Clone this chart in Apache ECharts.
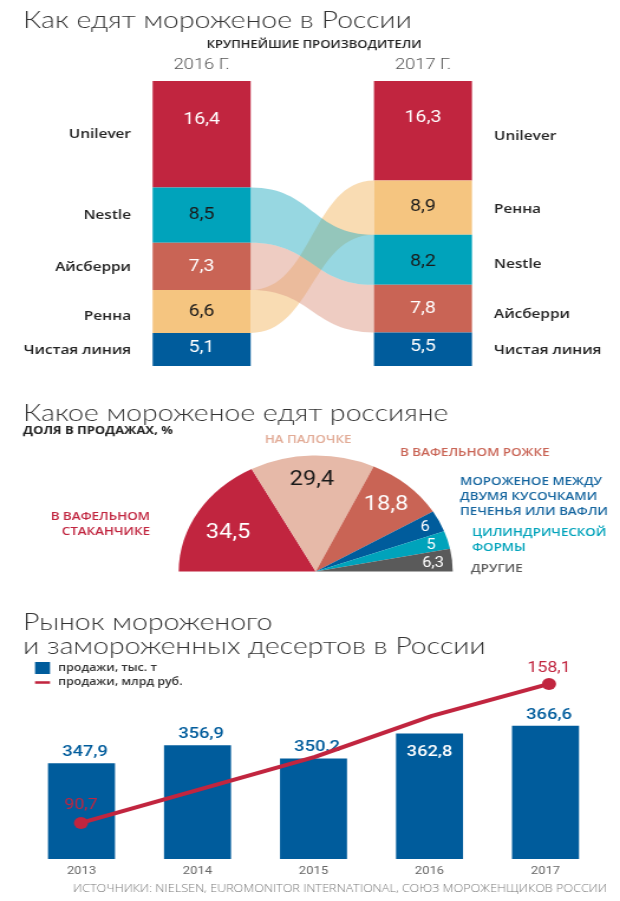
<!DOCTYPE html>
<html><head><meta charset="utf-8">
<style>html,body{margin:0;padding:0;background:#fff;overflow:hidden}
#c{width:525px;height:901px;transform:scaleX(1.181);transform-origin:0 0}</style>
<script src="https://cdn.jsdelivr.net/npm/echarts@6/dist/echarts.min.js"></script>
</head><body><div id="c"></div>
<script>
const producers2016=['Unilever','Nestle','Айсберри','Ренна','Чистая линия'];
const values2016=[16.4,8.5,7.3,6.6,5.1];
const producers2017=['Unilever','Ренна','Nestle','Айсберри','Чистая линия'];
const values2017=[16.3,8.9,8.2,7.8,5.5];
const producerYears=['2016 Г.','2017 Г.'];
const typeNames=['В ВАФЕЛЬНОМ\nСТАКАНЧИКЕ','НА ПАЛОЧКЕ','В ВАФЕЛЬНОМ РОЖКЕ','МОРОЖЕНОЕ МЕЖДУ\nДВУМЯ КУСОЧКАМИ\nПЕЧЕНЬЯ ИЛИ ВАФЛИ','ЦИЛИНДРИЧЕСКОЙ\nФОРМЫ','ДРУГИЕ'];
const typeValues=[34.5,29.4,18.8,6,5,6.3];
const marketYears=['2013','2014','2015','2016','2017'];
const salesTons=[347.9,356.9,350.2,362.8,366.6];
const salesRub=[90.7,106.7,122.7,142.6,158.1];

const S=1.181, X=v=>v/S, FONT='"Open Sans"', NUM='Roboto', HEAD='Lato';
const RED='#c1253f',TEAL='#00a3bb',SALMON='#c96455',PEACH='#f5c580',BLUE='#005c9c',PINK='#e6b9a8',GREY='#5a5a5a';
const brandColor={'Unilever':RED,'Nestle':TEAL,'Айсберри':SALMON,'Ренна':PEACH,'Чистая линия':BLUE};
const brandLabel={'Unilever':'#fff','Nestle':'#1a1a1a','Айсберри':'#fff','Ренна':'#1a1a1a','Чистая линия':'#fff'};
const comma=v=>String(v).replace('.',',');
const total=a=>a.reduce((s,v)=>s+v,0);
const share=a=>a.map(v=>v/total(a)*100);
const s16=share(values2016), s17=share(values2017);
const span=(names,sh,n)=>{let t=0;for(let i=0;i<names.length;i++){if(names[i]===n)return [t,t+sh[i]];t+=sh[i];}};
const mid=(sh,i)=>sh.slice(0,i).reduce((a,b)=>a+b,0)+sh[i]/2;

const labelDy=[[-14,0,1,0,-2],[-13,-1,2,0,-2]];
const brandDy=[[0,0,1,5,1],[6,2,4,6,1]];
const barPx=98;

const rankSeries=[0,1,2,3,4].map(i=>({
  type:'bar',name:'rank'+i,stack:'share',xAxisIndex:0,yAxisIndex:0,barWidth:X(barPx),z:3,
  data:[
    {value:s16[i],raw:values2016[i],itemStyle:{color:brandColor[producers2016[i]]},
     label:{color:brandLabel[producers2016[i]],offset:[0,labelDy[0][i]]}},
    {value:s17[i],raw:values2017[i],itemStyle:{color:brandColor[producers2017[i]]},
     label:{color:brandLabel[producers2017[i]],offset:[0,labelDy[1][i]]}}
  ],
  label:{show:true,position:'inside',fontFamily:NUM,fontSize:16.5,formatter:p=>comma(p.data.raw)}
}));

const ribbonNames=['Ренна','Айсберри','Nestle'];
const ribbonFill=['#f5c580','#dd9a85','#2fb0c4'];
const ribbonOpacity=[0.6,0.5,0.5];
const ribbonData=ribbonNames.map(n=>[0,...span(producers2016,s16,n),...span(producers2017,s17,n)]);
const ribbonSeries={
  type:'custom',name:'ribbons',xAxisIndex:0,yAxisIndex:0,z:1,silent:true,clip:false,
  encode:{x:0,y:1},data:ribbonData,
  renderItem(params,api){
    const half=X(barPx)/2;
    const a=api.coord([0,api.value(1)]),b=api.coord([0,api.value(2)]);
    const c=api.coord([1,api.value(3)]),d=api.coord([1,api.value(4)]);
    const x0=a[0]+half,x1=c[0]-half,m=(x0+x1)/2;
    return {type:'path',z2:params.dataIndex,
      shape:{pathData:`M${x0},${a[1]}C${m},${a[1]} ${m},${c[1]} ${x1},${c[1]}L${x1},${d[1]}C${m},${d[1]} ${m},${b[1]} ${x0},${b[1]}Z`},
      style:{fill:ribbonFill[params.dataIndex],opacity:ribbonOpacity[params.dataIndex]}};
  }
};
const brandPoints=[
  ...producers2016.map((n,i)=>[0,mid(s16,i),n,-1,brandDy[0][i]]),
  ...producers2017.map((n,i)=>[1,mid(s17,i),n,1,brandDy[1][i]])
];
const brandSeries={
  type:'custom',name:'brands',xAxisIndex:0,yAxisIndex:0,z:4,silent:true,clip:false,
  encode:{x:0,y:1},data:brandPoints,
  renderItem(params,api){
    const p=brandPoints[params.dataIndex];
    const c=api.coord([p[0],p[1]]);
    return {type:'text',x:p[3]<0?X(131):X(494),y:c[1]+p[4],
      style:{text:p[2],align:p[3]<0?'right':'left',verticalAlign:'middle',
        fontFamily:FONT,fontSize:13,fontWeight:600,fill:'#222'}};
  }
};

const pieColors=[RED,PINK,SALMON,BLUE,TEAL,GREY];
const pieLabelAt=[[228,533],[312,480],[386,505],[425,527],[431,545],[433,563]];
const pieLabelCol=['#fff','#1a1a1a','#fff','#fff','#fff','#fff'];
const pieLabelSize=[20,20,20,14,14,14];
const pieSeries={
  type:'pie',name:'types',center:[X(315.7),571.5],radius:[0,116],startAngle:180,endAngle:0,
  silent:true,avoidLabelOverlap:false,itemStyle:{borderWidth:0},
  data:typeValues.map((v,i)=>({name:typeNames[i],value:v,itemStyle:{color:pieColors[i]},
    label:{color:pieLabelCol[i],fontSize:pieLabelSize[i]}})),
  label:{show:true,position:'inside',fontFamily:NUM,formatter:p=>comma(p.value)},
  labelLine:{show:false},
  labelLayout:p=>({x:X(pieLabelAt[p.dataIndex][0]),y:pieLabelAt[p.dataIndex][1],align:'center',verticalAlign:'middle'})
};

const salesLabelInside=[0,0,0,1,0];
const barSeries={
  type:'bar',name:'продажи, тыс. т',xAxisIndex:1,yAxisIndex:1,barWidth:X(67),z:2,
  itemStyle:{color:BLUE},
  data:salesTons.map((v,i)=>({value:v,label:salesLabelInside[i]?{position:'insideTop',color:'#fff',distance:11}:{position:'top',color:BLUE,distance:3,offset:[3,0]}})),
  label:{show:true,fontFamily:NUM,fontSize:15.5,fontWeight:500,formatter:p=>comma(p.value)}
};
const lineSeries={
  type:'line',name:'продажи, млрд руб.',xAxisIndex:2,yAxisIndex:2,z:5,showAllSymbol:true,
  lineStyle:{color:RED,width:4},itemStyle:{color:RED},symbol:'circle',symbolSize:12,
  data:salesRub.map((v,i)=>(i===0||i===salesRub.length-1)
    ?{value:v,label:{show:true,position:'top',distance:i?2:4,color:RED,fontFamily:NUM,fontSize:15,formatter:p=>comma(p.value)}}
    :{value:v,symbol:'none'})
};

const head=(text,top)=>({text,left:X(23),top,padding:0,
  textStyle:{fontFamily:HEAD,fontWeight:300,fontSize:24.1,color:'#333',lineHeight:24}});
const txt=(x,y,text,color,size,weight,align)=>({type:'text',x:X(x),y,silent:true,
  style:{text,fill:color,fontFamily:FONT,fontSize:size,fontWeight:weight,align:align||'left',verticalAlign:'middle',lineHeight:Math.round(size*1.3)}});

const nameAt=[[150,524.5,'right'],[308,440,'center'],[400,453,'left'],[460,497,'left'],[472,540.5,'left'],[471,569,'left']];
const nameCol=[RED,'#e2ab96',SALMON,'#14659f',TEAL,GREY];

const chart=echarts.init(document.getElementById('c'));
chart.setOption({
  animation:false,backgroundColor:'#fff',
  title:[head('Как едят мороженое в России',8),head('Какое мороженое едят россияне',401),head('Рынок мороженого\nи замороженных десертов в России',610)],
  legend:{left:X(35),top:662,orient:'vertical',itemWidth:X(15),itemHeight:12,itemGap:3,padding:0,
    textStyle:{fontFamily:FONT,fontSize:10.5,fontWeight:600,color:'#333',padding:[0,0,0,2]},
    data:[{name:'продажи, тыс. т',icon:'rect'},{name:'продажи, млрд руб.',icon:'path://M0,0L0,0M15,12L15,12M0,4.5H15V7.5H0Z'}]},
  grid:[
    {left:X(91),width:X(442.6),top:81,height:285},
    {left:X(23.5),width:X(580),top:659,height:200},
    {left:X(22.5),width:X(585),top:659,height:200}
  ],
  xAxis:[
    {gridIndex:0,type:'category',position:'top',data:producerYears,axisLine:{show:false},axisTick:{show:false},
      axisLabel:{margin:8,fontFamily:NUM,fontSize:15.5,fontWeight:300,color:'#555'}},
    {gridIndex:1,type:'category',data:marketYears,axisLine:{show:false},axisTick:{show:false},
      axisLabel:{margin:7,fontFamily:NUM,fontSize:11,color:'#666'}},
    {gridIndex:2,type:'category',data:marketYears,show:false}
  ],
  yAxis:[
    {gridIndex:0,type:'value',inverse:true,min:0,max:100,show:false},
    {gridIndex:1,type:'value',min:300,max:400,show:false},
    {gridIndex:2,type:'value',min:73.2,max:170.2,show:false}
  ],
  series:[ribbonSeries,...rankSeries,brandSeries,pieSeries,barSeries,lineSeries],
  graphic:{elements:[
    txt(314,45,'КРУПНЕЙШИЕ ПРОИЗВОДИТЕЛИ','#222',11,600,'center'),
    txt(23,431,'ДОЛЯ В ПРОДАЖАХ, %','#222',11,700),
    txt(73,889,'ИСТОЧНИКИ: NIELSEN, EUROMONITOR INTERNATIONAL, СОЮЗ МОРОЖЕНЩИКОВ РОССИИ','#777',10.7,300),
    ...typeNames.map((n,i)=>txt(nameAt[i][0],nameAt[i][1],n,nameCol[i],11.3,600,nameAt[i][2]))
  ]}
});
</script></body></html>
